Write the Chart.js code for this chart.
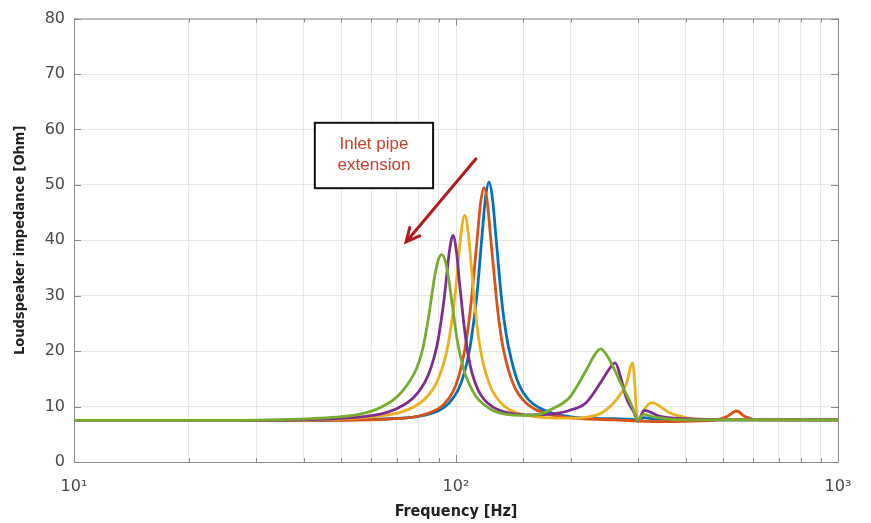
<!DOCTYPE html>
<html>
<head>
<meta charset="utf-8">
<script src="https://cdn.jsdelivr.net/npm/chart.js@4.4.1/dist/chart.umd.min.js"></script>
<style>
  html, body { margin: 0; padding: 0; background: #fff; }
  #wrap { width: 871px; height: 523px; }
</style>
</head>
<body>
<div id="wrap"><canvas id="chart" width="871" height="523"></canvas></div>
<script>
// impedance curves (Hz / Ohm)
const blueFreq = [10,20,30,40,49.3,66.7,75.3,82.4,90.2,95.8,101.1,104.9,108.7,111.4,113.5,117.2,119.4,122,124.6,126.9,131.2,133.6,137,142,147,155,165,181,198,223,260,290,300,310,330,400,600,1000];
const blueZ    = [7.5,7.5,7.5,7.5,7.6,7.8,8.0,8.4,9.3,10.6,12.9,15.8,20.5,25.6,30.3,41.5,47.5,50.5,47.5,41.5,30.3,25.6,21,16.5,13.6,11.2,9.8,8.7,8.2,7.9,7.8,7.7,7.4,8.0,7.8,7.6,7.6,7.6];

const orangeFreq = [10,20,30,40,47.8,64.8,73.1,79.9,87.5,92.9,98.2,101.8,105.5,108.1,110.1,113.8,115.9,118.4,120.9,123.1,127.3,129.6,132.8,137.7,142.8,150.7,160.2,175.4,191.9,216.7,260,300,350,420,480,515,543,570,620,1000];
const orangeZ    = [7.5,7.5,7.5,7.5,7.5,7.7,7.9,8.3,9.2,10.4,12.7,15.6,20.3,25.4,30.2,40.8,46.6,49.5,46.6,40.8,30.2,25.4,20.6,16.2,13.3,11,9.6,8.6,8.1,7.8,7.6,7.4,7.3,7.4,7.6,8.3,9.2,8.2,7.6,7.6];

const yellowFreq = [10,20,30,42.6,57.7,65,71.1,77.9,82.7,87.4,90.6,93.9,96.2,98,99.8,101.3,103.2,105.4,107.7,109.6,111.3,113.3,115.4,118.3,122.6,127.1,134.2,142.6,156.1,170.9,200,220,241,262,279,290,299,312,325,362,400,450,1000];
const yellowZ    = [7.5,7.5,7.5,7.6,8.0,8.4,8.9,10,11.3,13.3,15.6,19,22.7,26.5,31.2,36,41.5,44.5,41.3,35.5,30.3,25,21,17.3,13.9,11.8,10,9,8.3,8.0,7.9,8.1,8.9,11.1,14.1,17.9,7.4,9.6,10.7,8.9,8.0,7.7,7.6];

const purpleFreq = [10,20,39.7,53.7,60.6,66.3,72.6,77.1,81.4,84.5,87.5,89.7,91.3,93,94.4,96.1,98.2,100.3,102.1,103.7,105.6,107.5,110.2,114.2,118.4,125,132.9,145.4,160,180,198,219,241,252,261,270,279,293,299,311,340,400,500,1000];
const purpleZ    = [7.5,7.5,7.6,8.0,8.4,9.0,10.2,11.5,13.5,15.6,18.7,21.9,25.2,29.2,33.2,38,40.9,37.9,32.4,28,23.2,19.5,16,13,11.3,9.9,9.1,8.6,8.5,8.7,9.3,10.7,14.7,16.8,17.9,15.2,11.6,8.8,7.4,9.3,8.3,7.8,7.6,7.6];

const greenFreq = [10,20,37,50.2,56.6,61.9,68.6,72,76,78.9,81.7,83.7,85.3,86.8,88.1,89.8,91.7,93.7,95.4,96.8,98.6,100.4,102.9,106,110.6,114.7,124.1,135.8,148.6,165,180,198,219,230,239,252,268,290,298,310,330,400,1000];
const greenZ    = [7.5,7.5,7.7,8.2,8.7,9.5,11.2,12.6,14.8,16.9,20.2,23.9,27.4,31,33.8,36.4,37.4,36.3,33.6,30.6,26.5,22.6,18.8,15.6,12.8,11.2,9.4,8.6,8.4,8.6,9.7,11.6,16.5,19.2,20.4,18.5,14.7,9.8,7.5,8.6,8.1,7.6,7.6];

const yTicks = [0,10,20,30,40,50,60,70,80];
const xDecadeLabels = { 10: '10¹', 100: '10²', 1000: '10³' };

// note box and arrow, in data units
const noteLines = ['Inlet pipe', 'extension'];
const noteBox   = { f1: 42.7, z1: 61.2, f2: 87.1, z2: 49.4 };
const arrowFrom = { f: 112.8, z: 54.7 };
const arrowTo   = { f: 74, z: 39.7 };

function toPoints(fs, zs) {
  return fs.map((f, i) => ({ x: f, y: zs[i] }));
}

function curve(fs, zs, color) {
  return {
    data: toPoints(fs, zs),
    borderColor: color,
    borderWidth: 2.8,
    pointRadius: 0,
    fill: false,
    cubicInterpolationMode: 'monotone'
  };
}

// box around the plot, inner tick marks, and the note
const frameAndNote = {
  id: 'frameAndNote',
  afterDatasetsDraw(chart) {
    const { ctx, chartArea: a, scales: { x, y } } = chart;
    ctx.save();
    ctx.strokeStyle = '#8c8c8c';
    ctx.lineWidth = 1;
    ctx.strokeRect(a.left + 0.5, a.top + 0.5, a.right - a.left, a.bottom - a.top);
    ctx.beginPath();
    x.ticks.forEach(t => {
      const px = Math.round(x.getPixelForValue(t.value)) + 0.5;
      const len = xDecadeLabels[t.value] ? 7 : 4;
      ctx.moveTo(px, a.bottom); ctx.lineTo(px, a.bottom - len);
      ctx.moveTo(px, a.top); ctx.lineTo(px, a.top + len);
    });
    yTicks.forEach(v => {
      const py = Math.round(y.getPixelForValue(v)) + 0.5;
      ctx.moveTo(a.left, py); ctx.lineTo(a.left + 7, py);
      ctx.moveTo(a.right, py); ctx.lineTo(a.right - 7, py);
    });
    ctx.stroke();

    const bx1 = x.getPixelForValue(noteBox.f1), by1 = y.getPixelForValue(noteBox.z1);
    const bx2 = x.getPixelForValue(noteBox.f2), by2 = y.getPixelForValue(noteBox.z2);
    ctx.fillStyle = '#fff';
    ctx.fillRect(bx1, by1, bx2 - bx1, by2 - by1);
    ctx.strokeStyle = '#111';
    ctx.lineWidth = 2;
    ctx.strokeRect(bx1, by1, bx2 - bx1, by2 - by1);
    ctx.fillStyle = '#c8412f';
    ctx.font = '17px "Liberation Sans", sans-serif';
    ctx.textAlign = 'center';
    ctx.textBaseline = 'middle';
    const cx = (bx1 + bx2) / 2, cy = (by1 + by2) / 2;
    ctx.fillText(noteLines[0], cx, cy - 11);
    ctx.fillText(noteLines[1], cx, cy + 10);

    const ax1 = x.getPixelForValue(arrowFrom.f), ay1 = y.getPixelForValue(arrowFrom.z);
    const ax2 = x.getPixelForValue(arrowTo.f),   ay2 = y.getPixelForValue(arrowTo.z);
    const ang = Math.atan2(ay2 - ay1, ax2 - ax1);
    ctx.strokeStyle = '#b01c22';
    ctx.lineWidth = 3;
    ctx.lineCap = 'round';
    ctx.beginPath();
    ctx.moveTo(ax1, ay1);
    ctx.lineTo(ax2, ay2);
    ctx.moveTo(ax2 - 15 * Math.cos(ang - 0.45), ay2 - 15 * Math.sin(ang - 0.45));
    ctx.lineTo(ax2, ay2);
    ctx.lineTo(ax2 - 15 * Math.cos(ang + 0.45), ay2 - 15 * Math.sin(ang + 0.45));
    ctx.stroke();
    ctx.restore();
  }
};

const ctx = document.getElementById('chart').getContext('2d');
new Chart(ctx, {
  type: 'line',
  data: {
    // first dataset is drawn on top
    datasets: [
      curve(greenFreq, greenZ, '#77AC30'),
      curve(purpleFreq, purpleZ, '#7E2F8E'),
      curve(yellowFreq, yellowZ, '#EDB120'),
      curve(orangeFreq, orangeZ, '#D95319'),
      curve(blueFreq, blueZ, '#0072BD')
    ]
  },
  options: {
    responsive: false,
    animation: false,
    devicePixelRatio: 1,
    layout: { padding: { left: 0, right: 33, top: 15, bottom: 0 } },
    plugins: { legend: { display: false }, tooltip: { enabled: false } },
    scales: {
      x: {
        type: 'logarithmic',
        min: 10,
        max: 1000,
        grid: { color: '#e8e8e8', drawTicks: false },
        border: { color: '#8c8c8c' },
        ticks: {
          autoSkip: false,
          maxRotation: 0,
          padding: 15,
          color: '#4a4a4a',
          font: { family: '"DejaVu Sans", sans-serif', size: 16 },
          callback: (v) => xDecadeLabels[v] || ''
        },
        title: {
          display: true,
          text: 'Frequency [Hz]',
          color: '#222',
          padding: { top: 4, bottom: 2 },
          font: { family: '"Liberation Sans Narrow", "DejaVu Sans Condensed", sans-serif', size: 16, weight: 'bold' }
        },
        afterFit: (s) => { s.height = 61; }
      },
      y: {
        min: 0,
        max: 80,
        afterBuildTicks: (s) => { s.ticks = yTicks.map(v => ({ value: v })); },
        grid: { color: '#e8e8e8', drawTicks: false },
        border: { color: '#8c8c8c' },
        ticks: {
          padding: 9,
          color: '#4a4a4a',
          font: { family: '"DejaVu Sans", sans-serif', size: 16 }
        },
        title: {
          display: true,
          text: 'Loudspeaker impedance [Ohm]',
          color: '#222',
          padding: { top: 12 },
          font: { family: '"Liberation Sans Narrow", "DejaVu Sans Condensed", sans-serif', size: 14.5, weight: 'bold' }
        },
        afterFit: (s) => { s.width = 74; }
      }
    }
  },
  plugins: [frameAndNote]
});
</script>
</body>
</html>
